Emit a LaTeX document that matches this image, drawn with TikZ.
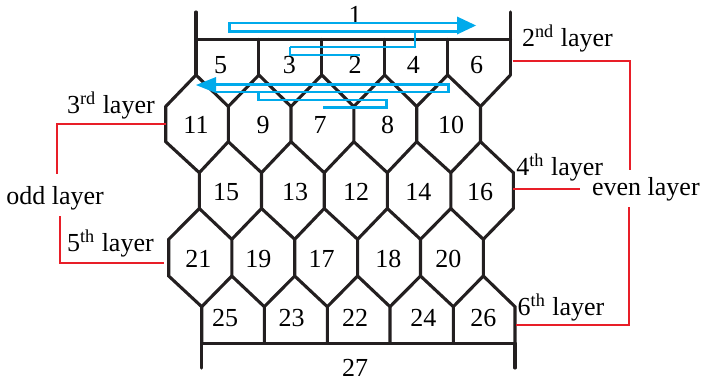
\documentclass[tikz,border=0pt]{standalone}
\usepackage{fontspec}
\setmainfont{Liberation Serif}
\definecolor{wallc}{RGB}{35,31,32}
\definecolor{bluec}{RGB}{0,170,235}
\definecolor{redc}{RGB}{232,30,40}
\begin{document}
\begin{tikzpicture}[x=0.5pt,y=-0.5pt,
  wall/.style={draw=wallc,line width=1.55pt,line cap=round,line join=miter},
  snake/.style={draw=bluec,line width=1.4pt,line cap=butt,line join=miter},
  redline/.style={draw=redc,line width=1.15pt},
  num/.style={inner sep=0pt,anchor=base,font=\fontsize{13}{15}\selectfont},
  lay/.style={inner sep=0pt,anchor=base west,font=\fontsize{13}{15}\selectfont}]
\useasboundingbox (0,0) rectangle (702,380);
% grid coordinates
\foreach \n/\x in {0/196,1/258.9,2/321.8,3/384.7,4/447.6,5/510.5}{
  \coordinate (T\n) at (\x,39.5); \coordinate (A\n) at (\x,75);}
\foreach \n/\x in {0/165.7,1/228.3,2/291,3/353.8,4/416.7,5/480.5}{
  \coordinate (B\n) at (\x,106.5); \coordinate (BB\n) at (\x,141.7);}
\foreach \n/\x in {0/199.3,1/261.5,2/324.2,3/387.3,4/450.8,5/513.3}{
  \coordinate (C\n) at (\x,172.7); \coordinate (CC\n) at (\x,208.5);}
\foreach \n/\x in {0/168.7,1/231.8,2/294.7,3/357.6,4/420.5,5/483.3}{
  \coordinate (D\n) at (\x,239.3); \coordinate (DD\n) at (\x,276);}
\foreach \n/\x in {0/201.7,1/264.3,2/327.3,3/390,4/453.3,5/515}{
  \coordinate (E\n) at (\x,306.7); \coordinate (EE\n) at (\x,343.3);}
\coordinate (F0) at (196,12); \coordinate (F1) at (510.5,12);
\coordinate (G0) at (201.7,368); \coordinate (G1) at (515,368);
% walls
\draw[wall] (F0) -- (A0);
\draw[wall] (F1) -- (A5);
\draw[wall] (T0) -- (T5);
\foreach \i in {1,...,4} \draw[wall] (T\i) -- (A\i);
\foreach \i in {0,...,5} \draw[wall] (A\i) -- (B\i) -- (BB\i) -- (C\i) -- (CC\i) -- (D\i) -- (DD\i) -- (E\i) -- (EE\i);
\foreach \i/\j in {0/1,1/2,2/3,3/4,4/5}{
  \draw[wall] (A\i) -- (B\j);
  \draw[wall] (C\i) -- (BB\j);
  \draw[wall] (CC\i) -- (D\j);
  \draw[wall] (E\i) -- (DD\j);}
\draw[wall] (EE0) -- (EE5);
\draw[wall] (EE0) -- (G0);
\draw[wall] (EE5) -- (G1);
% cell numbers
\node[num] (n1) at (355,23.5) {1};
\foreach \t/\x in {5/220.7,3/289.3,2/355,4/413.3,6/476.7} \node[num] (n\t) at (\x,73) {\t};
\foreach \t/\x in {11/196,9/263,7/320,8/387.5,10/451} \node[num] (n\t) at (\x,133.5) {\t};
\foreach \t/\x in {15/226,13/295,12/356,14/418.3,16/480} \node[num] (n\t) at (\x,200) {\t};
\foreach \t/\x in {21/198.3,19/258.3,17/321.7,18/388.3,20/448.3} \node[num] (n\t) at (\x,267) {\t};
\foreach \t/\x in {25/225,23/291.7,22/355,24/423.3,26/483.3} \node[num] (n\t) at (\x,326.7) {\t};
\node[num] (n27) at (355,376) {27};
% layer labels
\node[lay] (l2) at (521.7,46.7) {2\textsuperscript{nd} layer};
\node[lay] (l3) at (66.7,113.3) {3\textsuperscript{rd} layer};
\node[lay] (l4) at (516,175) {4\textsuperscript{th} layer};
\node[lay] (l5) at (66.7,251.7) {5\textsuperscript{th} layer};
\node[lay] (l6) at (517.3,315) {6\textsuperscript{th} layer};
\node[lay] (odd) at (6,204) {odd layer};
\node[lay] (even) at (591.7,195) {even layer};
% red brackets
\coordinate (r3) at (165.7,124.3);
\coordinate (r3a) at (56.7,174.3);
\coordinate (r5) at (164,263.3);
\coordinate (r5a) at (60,216);
\draw[redline] (r3) -| (r3a);
\draw[redline] (r5a) |- (r5);
\coordinate (r2) at (512.7,61);
\coordinate (r2a) at (630,170);
\coordinate (r4) at (513.3,189.3);
\coordinate (r4a) at (580,189.3);
\coordinate (r6) at (516,325);
\coordinate (r6a) at (629.3,207.3);
\draw[redline] (r2) -| (r2a);
\draw[redline] (r4) -- (r4a);
\draw[redline] (r6a) |- (r6);
% top blue snake
\draw[snake] (458,23) -- (229.4,23) -- (229.4,31.5) -- (458,31.5);
\draw[snake] (415,31.5) -- (415,47) -- (290,47);
\draw[snake] (290,47) -- (290,55) -- (360,55);
\fill[bluec] (457,16.5) -- (476,25.5) -- (457,34.5) -- cycle;
% lower blue snake
\draw[snake] (216,84.3) -- (448.3,84.3) -- (448.3,92) -- (216,92);
\draw[snake] (448.3,92) -- (258.3,92) -- (258.3,100) -- (386.7,100) -- (386.7,107.7) -- (322.7,107.7);
\fill[bluec] (216,77) -- (196,85) -- (216,93) -- cycle;
\end{tikzpicture}
\end{document}
